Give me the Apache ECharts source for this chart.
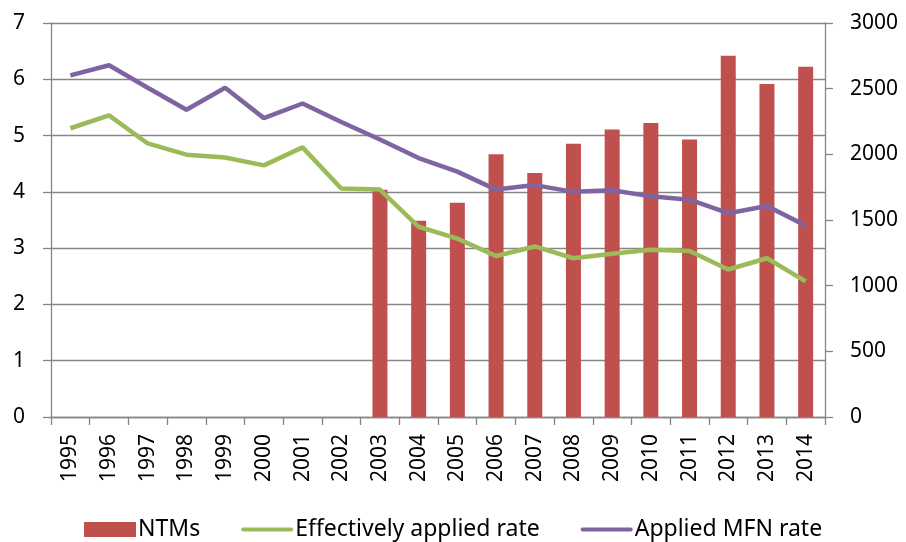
<!DOCTYPE html>
<html>
<head>
<meta charset="utf-8">
<script src="https://cdn.jsdelivr.net/npm/echarts@6/dist/echarts.min.js"></script>
<style>html,body{margin:0;padding:0;background:#fff}#c{width:906px;height:542px}</style>
</head>
<body>
<div id="c"></div>
<script>
const years = ['1995','1996','1997','1998','1999','2000','2001','2002','2003','2004','2005','2006','2007','2008','2009','2010','2011','2012','2013','2014'];
const ntms = [null,null,null,null,null,null,null,null,1730,1495,1632,2000,1858,2081,2190,2238,2112,2751,2535,2667];
const effectiveRate = [5.13,5.36,4.86,4.66,4.61,4.47,4.79,4.06,4.04,3.38,3.17,2.86,3.03,2.82,2.90,2.97,2.95,2.62,2.82,2.41];
const mfnRate = [6.07,6.25,5.85,5.46,5.85,5.31,5.57,5.24,4.93,4.60,4.36,4.04,4.12,4.00,4.03,3.92,3.86,3.62,3.75,3.40];
const leftTicks = [0,7,1];
const rightTicks = [0,3000,500];

const FONT = 'Noto Sans';
const axisGray = '#868686';
const lineIcon = 'path://M2,0 L50,0 A2,2 0 0 1 50,4 L2,4 A2,2 0 0 1 2,0 Z';
const chart = echarts.init(document.getElementById('c'), null, {renderer:'canvas'});
chart.setOption({
  animation:false,
  backgroundColor:'#ffffff',
  textStyle:{fontFamily:FONT,color:'#000'},
  grid:{left:51,right:81,top:23,bottom:125,containLabel:false},
  legend:{
    top:518, left:84, padding:0, itemWidth:52, itemHeight:15, itemGap:41,
    textStyle:{fontFamily:FONT,fontSize:23,color:'#000',padding:[0,0,0,-3]},
    data:[
      {name:'NTMs',icon:'rect'},
      {name:'Effectively applied rate',icon:lineIcon},
      {name:'Applied MFN rate',icon:lineIcon}
    ]
  },
  xAxis:{
    type:'category', data:years, boundaryGap:true,
    axisLine:{lineStyle:{color:axisGray,width:1.3}},
    axisTick:{show:true,length:8,lineStyle:{color:axisGray,width:1.3}},
    axisLabel:{rotate:90,fontSize:21,color:'#000',fontFamily:FONT,margin:17}
  },
  yAxis:[
    {type:'value',min:leftTicks[0],max:leftTicks[1],interval:leftTicks[2],
     axisLine:{show:true,lineStyle:{color:axisGray,width:1.3}},
     axisTick:{show:true,length:8,lineStyle:{color:axisGray,width:1.3}},
     splitLine:{show:true,lineStyle:{color:axisGray,width:1.3}},
     axisLabel:{fontSize:21,color:'#000',fontFamily:FONT,margin:26}},
    {type:'value',min:rightTicks[0],max:rightTicks[1],interval:rightTicks[2],position:'right',
     axisLine:{show:true,lineStyle:{color:axisGray,width:1.3}},
     axisTick:{show:true,length:8,lineStyle:{color:axisGray,width:1.3}},
     splitLine:{show:false},
     axisLabel:{fontSize:21,color:'#000',fontFamily:FONT,margin:25,formatter:function(v){return String(v);}}}
  ],
  series:[
    {name:'NTMs',type:'bar',yAxisIndex:1,data:ntms,barWidth:15,itemStyle:{color:'#C0504D'}},
    {name:'Effectively applied rate',type:'line',yAxisIndex:0,data:effectiveRate,symbol:'none',
     lineStyle:{color:'#9BBB59',width:4.5},itemStyle:{color:'#9BBB59'}},
    {name:'Applied MFN rate',type:'line',yAxisIndex:0,data:mfnRate,symbol:'none',
     lineStyle:{color:'#8064A2',width:4.5},itemStyle:{color:'#8064A2'}}
  ]
});
</script>
</body>
</html>
